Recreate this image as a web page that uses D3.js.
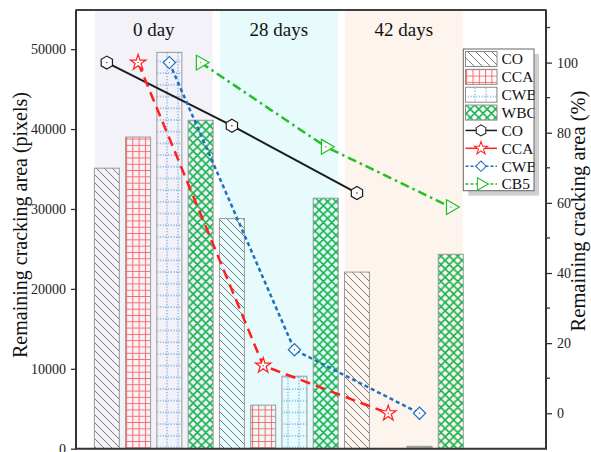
<!DOCTYPE html>
<html>
<head>
<meta charset="utf-8">
<script src="https://cdn.jsdelivr.net/npm/d3@7"></script>
<style>
  html, body { margin: 0; padding: 0; background: #fff; }
  svg { display: block; font-family: "Liberation Serif", "Times New Roman", serif; }
</style>
</head>
<body>
<svg id="chart" width="591" height="452"></svg>
<script>
// ---------------- data ----------------
const days = ["0 day", "28 days", "42 days"];
const barSeries = ["CO", "CCA", "CWB", "WBC"];
const barCO  = [35100, 28800, 22100];
const barCCA = [39000, 5450, 0];
const barCWB = [49600, 9070, 300];
const barWBC = [41100, 31350, 24330];

const lineSeries = ["CO", "CCA", "CWB", "CB5"];
const pctCO  = [100, 82.0, 62.8];
const pctCCA = [100, 13.6, 0];
const pctCWB = [100, 18.1, 0];
const pctCB5 = [100, 76.0, 58.8];

const leftTicks = [0, 10000, 20000, 30000, 40000, 50000];
const rightTicks = [0, 20, 40, 60, 80, 100];
const rightMinorTicks = [10, 30, 50, 70, 90, 110];

const leftTitle = "Remaining cracking area (pixels)";
const rightTitle = "Remaining cracking area (%)";

// ---------------- layout ----------------
const svg = d3.select("#chart");
const L = 76, R = 546, T = 10, B = 448.7;

const x = d3.scaleBand().domain(days).range([91.2, 466.4]).padding(0);
const xs = d3.scaleBand().domain(barSeries).range([0, x.bandwidth()])
  .paddingInner(0.2).paddingOuter(0.1);
const yL = d3.scaleLinear().domain([0, 54900]).range([B, T]);
const yR = d3.scaleLinear().domain([-10.1, 115.0]).range([B, T]);

const bandColors = ["#f3f2f8", "#e7fbfd", "#fdf4ed"];
const defs = svg.append("defs");

// patterns
function pat(id, w, h) {
  return defs.append("pattern").attr("id", id).attr("patternUnits", "userSpaceOnUse")
    .attr("width", w).attr("height", h);
}
pat("pCO", 8, 8).append("path")
  .attr("d", "M-2,-2 L10,10 M-2,6 L2,10 M6,-2 L10,2")
  .attr("stroke", "#7a7a7a").attr("stroke-width", 1).attr("fill", "none");
{
  const p = pat("pCCA", 6.3, 6.3);
  p.append("path").attr("d", "M0.5,0 V6.3 M0,0.5 H6.3")
    .attr("stroke", "#ff6464").attr("stroke-width", 1).attr("fill", "none");
}
{
  const p = pat("pCWB", 11, 11.7);
  p.append("path").attr("d", "M2,0 V11.7 M0,3 H11")
    .attr("stroke", "#4d95d6").attr("stroke-width", 1).attr("stroke-dasharray", "1.3,1.6").attr("fill", "none");
}
{
  const p = pat("pWBC", 8.4, 8.4);
  p.append("path").attr("d", "M0,0 L8.4,8.4 M8.4,0 L0,8.4 M-1,7.4 L1,9.4 M7.4,-1 L9.4,1 M-1,1 L1,-1 M7.4,9.4 L9.4,7.4")
    .attr("stroke", "#12b24c").attr("stroke-width", 1.6).attr("fill", "none");
}
const patternOf = { CO: "url(#pCO)", CCA: "url(#pCCA)", CWB: "url(#pCWB)", WBC: "url(#pWBC)" };

// background bands
svg.append("g").selectAll("rect").data(days).join("rect")
  .attr("x", d => x(d) + 3.5).attr("y", T)
  .attr("width", x.bandwidth() - 7).attr("height", B - T)
  .attr("fill", (d, i) => bandColors[i]);

// bars
const barData = [];
const barArrays = { CO: barCO, CCA: barCCA, CWB: barCWB, WBC: barWBC };
days.forEach((d, i) => barSeries.forEach(s => barData.push({ day: d, s, v: barArrays[s][i] })));
svg.append("g").selectAll("rect").data(barData.filter(d => d.v > 0)).join("rect")
  .attr("x", d => x(d.day) + xs(d.s))
  .attr("y", d => yL(d.v))
  .attr("width", xs.bandwidth())
  .attr("height", d => yL(0) - yL(d.v))
  .attr("fill", d => d.v < 1000 ? "#a8a8a8" : patternOf[d.s])
  .attr("stroke", "#9a9a9a").attr("stroke-width", 1);

// day labels
svg.append("g").selectAll("text").data(days).join("text")
  .attr("x", d => x(d) + x.bandwidth() / 2).attr("y", 36)
  .attr("text-anchor", "middle").attr("font-size", 19).attr("fill", "#111")
  .text(d => d);

// line styles
const lineStyle = {
  CO:  { color: "#1c1c1c", dash: null, width: 2, lgDash: null },
  CCA: { color: "#ff1f1f", dash: "10,6", width: 2.5, lgDash: null },
  CWB: { color: "#1f6fbf", dash: "4,3", width: 2.5, lgDash: "3,2" },
  CB5: { color: "#22c022", dash: "9,4,2.5,4", width: 2.5, lgDash: "3,2" }
};
const barOfLine = { CO: "CO", CCA: "CCA", CWB: "CWB", CB5: "WBC" };
const pctArrays = { CO: pctCO, CCA: pctCCA, CWB: pctCWB, CB5: pctCB5 };

function hexPath(r) {
  const pts = d3.range(6).map(k => {
    const a = Math.PI / 6 + k * Math.PI / 3;
    return [r * Math.cos(a), r * Math.sin(a)];
  });
  return "M" + pts.map(p => p.join(",")).join("L") + "Z";
}
function markerPath(s) {
  if (s === "CO") return { d: hexPath(6.5), rot: 0 };
  if (s === "CCA") return { d: d3.symbol(d3.symbolStar, 75)(), rot: 0 };
  if (s === "CWB") return { d: d3.symbol(d3.symbolSquare, 75)(), rot: 45 };
  return { d: d3.symbol(d3.symbolTriangle, 95)(), rot: 90 };
}

const line = d3.line().x(d => d[0]).y(d => d[1]);
lineSeries.forEach(s => {
  const st = lineStyle[s];
  const pts = days.map((d, i) => [x(d) + xs(barOfLine[s]) + xs.bandwidth() / 2, yR(pctArrays[s][i])]);
  svg.append("path").attr("d", line(pts)).attr("fill", "none")
    .attr("stroke", st.color).attr("stroke-width", st.width)
    .attr("stroke-dasharray", st.dash);
});
lineSeries.forEach(s => {
  const st = lineStyle[s];
  const m = markerPath(s);
  const pts = days.map((d, i) => [x(d) + xs(barOfLine[s]) + xs.bandwidth() / 2, yR(pctArrays[s][i])]);
  const g = svg.append("g").selectAll("g").data(pts).join("g")
    .attr("transform", p => `translate(${p[0]},${p[1]})`);
  g.append("path").attr("d", m.d).attr("transform", `rotate(${m.rot})`)
    .attr("fill", "#fbfbfd").attr("stroke", st.color).attr("stroke-width", 1.2);
  g.append("circle").attr("r", 0.7).attr("fill", st.color);
});

// axes
const axL = svg.append("g").attr("transform", `translate(${L},0)`)
  .call(d3.axisLeft(yL).tickValues(leftTicks).tickSize(5).tickSizeOuter(0).tickFormat(d3.format("d")));
axL.select(".domain").remove();
axL.selectAll("text").attr("font-size", 14).attr("font-family", "Liberation Serif").attr("fill", "#222").attr("dx", "-2");
axL.selectAll("line").attr("stroke", "#333").attr("stroke-width", 1.3);

const axR = svg.append("g").attr("transform", `translate(${R},0)`)
  .call(d3.axisRight(yR).tickValues(rightTicks).tickSize(6).tickSizeOuter(0));
axR.select(".domain").remove();
axR.selectAll("text").attr("font-size", 14).attr("font-family", "Liberation Serif").attr("fill", "#222").attr("dx", "2");
axR.selectAll("line").attr("stroke", "#333").attr("stroke-width", 1.3);
svg.append("g").selectAll("line").data(rightMinorTicks).join("line")
  .attr("x1", R).attr("x2", R + 4).attr("y1", d => yR(d)).attr("y2", d => yR(d))
  .attr("stroke", "#333").attr("stroke-width", 1.3);

// frame
svg.append("path")
  .attr("d", `M${L},${T} H${R} M${L},${T - 0.5} V${B} H${R} V${T - 0.5}`)
  .attr("fill", "none").attr("stroke", "#333").attr("stroke-width", 2);
svg.append("line").attr("x1", L).attr("x2", R).attr("y1", T).attr("y2", T)
  .attr("stroke", "#444").attr("stroke-width", 1.4);

// titles
svg.append("text").attr("transform", "translate(27,225) rotate(-90)")
  .attr("text-anchor", "middle").attr("font-size", 20).attr("fill", "#111").text(leftTitle);
svg.append("text").attr("transform", "translate(585,211) rotate(-90)")
  .attr("text-anchor", "middle").attr("font-size", 20.5).attr("fill", "#111").text(rightTitle);

// legend
const lgX = 463.3, lgY = 49, lgW = 70.7, lgH = 141.7, rowH = 17.86;
svg.append("rect").attr("x", lgX + 5).attr("y", lgY + 5).attr("width", lgW).attr("height", lgH).attr("fill", "#cfcfcf");
svg.append("rect").attr("x", lgX).attr("y", lgY).attr("width", lgW).attr("height", lgH)
  .attr("fill", "#fff").attr("stroke", "#666").attr("stroke-width", 1);
defs.append("clipPath").attr("id", "lgClip").append("rect")
  .attr("x", lgX).attr("y", lgY).attr("width", lgW + 0.5).attr("height", lgH);
const lg = svg.append("g");
barSeries.forEach((s, i) => {
  const cy = lgY + 10 + i * rowH;
  lg.append("rect").attr("x", 465.5).attr("y", cy - 7.5).attr("width", 31.5).attr("height", 15)
    .attr("fill", patternOf[s]).attr("stroke", "#8a8a8a").attr("stroke-width", 1);
  lg.append("text").attr("x", 501.5).attr("y", cy).attr("dy", "0.35em")
    .attr("font-size", 15.5).attr("fill", "#111").attr("clip-path", "url(#lgClip)").text(s);
});
lineSeries.forEach((s, j) => {
  const i = j + 4;
  const cy = lgY + 10 + i * rowH;
  const st = lineStyle[s];
  const m = markerPath(s);
  lg.append("line").attr("x1", 465.5).attr("x2", 497).attr("y1", cy).attr("y2", cy)
    .attr("stroke", st.color).attr("stroke-width", 1.5)
    .attr("stroke-dasharray", st.lgDash);
  lg.append("path").attr("d", m.d)
    .attr("transform", `translate(481,${cy}) rotate(${m.rot}) scale(0.85)`)
    .attr("fill", "#fff").attr("stroke", st.color).attr("stroke-width", 1.2);
  lg.append("text").attr("x", 501.5).attr("y", cy).attr("dy", "0.35em")
    .attr("font-size", 15.5).attr("fill", "#111").attr("clip-path", "url(#lgClip)").text(s);
});
</script>
</body>
</html>
